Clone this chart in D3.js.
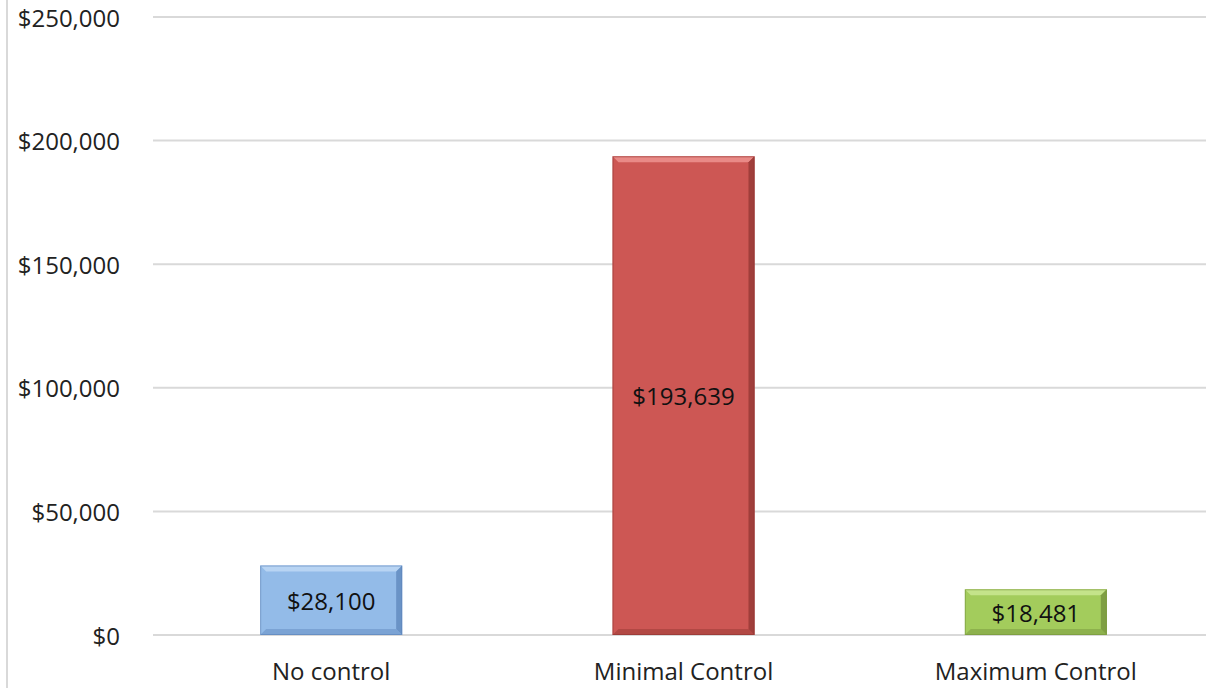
<!DOCTYPE html>
<html><head><meta charset="utf-8">
<script src="https://cdn.jsdelivr.net/npm/d3@7/dist/d3.min.js"></script>
<style>body{margin:0;background:#fff}svg{display:block}text{font-family:"Open Sans","Noto Sans",sans-serif}</style>
</head><body>
<svg id="c" width="1206" height="688"></svg>
<script>
const categories = ["No control", "Minimal Control", "Maximum Control"];
const values = [28100, 193639, 18481];
const tickValues = [0, 50000, 100000, 150000, 200000, 250000];
const barColors = [
  {body:"#93bbe8", light:"#b8d4f3", dark:"#6a93c6", edge:"#5a82b8"},
  {body:"#cd5754", light:"#e98a87", dark:"#a03e3b", edge:"#8f3532"},
  {body:"#a3cc5c", light:"#c4e38a", dark:"#7f9f43", edge:"#76943c"}
];

(function(){
const svg = d3.select("#c");
const W = 1206, H = 688;
const pLeft = 155, pRight = 1212, pTop = 17, pBottom = 635;
const x = d3.scaleBand().domain(categories).range([pLeft, pRight]).paddingInner(0.597).paddingOuter(0.2985);
const y = d3.scaleLinear().domain([0, 250000]).range([pBottom, pTop]);
const fmt = v => "$" + d3.format(",")(v);
const fs = 24;

svg.append("line").attr("x1",7).attr("x2",7).attr("y1",0).attr("y2",H).attr("stroke","#d9d9d9").attr("stroke-width",2);

svg.append("g").selectAll("line").data(tickValues).join("line")
  .attr("x1",153).attr("x2",W).attr("y1",d=>y(d)).attr("y2",d=>y(d))
  .attr("stroke","#d9d9d9").attr("stroke-width",2);

svg.append("g").selectAll("text").data(tickValues).join("text")
  .attr("x",120).attr("y",d=>y(d)+1).attr("dy","0.36em").attr("text-anchor","end")
  .attr("font-size",fs).attr("fill","#222").text(fmt);

const b = 6;
const g = svg.append("g").selectAll("g").data(values).join("g");
g.each(function(v,i){
  const x0 = x(categories[i]), w = x.bandwidth(), y0 = y(v), y1 = y(0), h = y1 - y0;
  const c = barColors[i], s = d3.select(this);
  s.append("rect").attr("x",x0).attr("y",y0).attr("width",w).attr("height",h).attr("fill",c.body);
  s.append("polygon").attr("points",[[x0,y0],[x0+w,y0],[x0+w-b,y0+b],[x0+b,y0+b]].join(" ")).attr("fill",c.light);
  s.append("polygon").attr("points",[[x0+w,y0],[x0+w,y1],[x0+w-b,y1-b],[x0+w-b,y0+b]].join(" ")).attr("fill",c.dark);
  s.append("polygon").attr("points",[[x0,y1],[x0+w,y1],[x0+w-b,y1-b],[x0+b,y1-b]].join(" ")).attr("fill",c.dark).attr("opacity",0.6);
  s.append("rect").attr("x",x0+0.5).attr("y",y0+0.5).attr("width",w-1).attr("height",h-1).attr("fill","none").attr("stroke",c.edge).attr("stroke-width",1).attr("opacity",0.6);
  s.append("text").attr("x",x0+w/2).attr("y",(y0+y1)/2+1).attr("dy","0.36em").attr("text-anchor","middle")
    .attr("font-size",fs).attr("fill","#111").text(fmt(v));
});

svg.append("g").selectAll("text").data(categories).join("text")
  .attr("x",d=>x(d)+x.bandwidth()/2).attr("y",671).attr("dy","0.36em").attr("text-anchor","middle")
  .attr("font-size",fs).attr("fill","#222").text(d=>d);
})();
</script>
</body></html>
